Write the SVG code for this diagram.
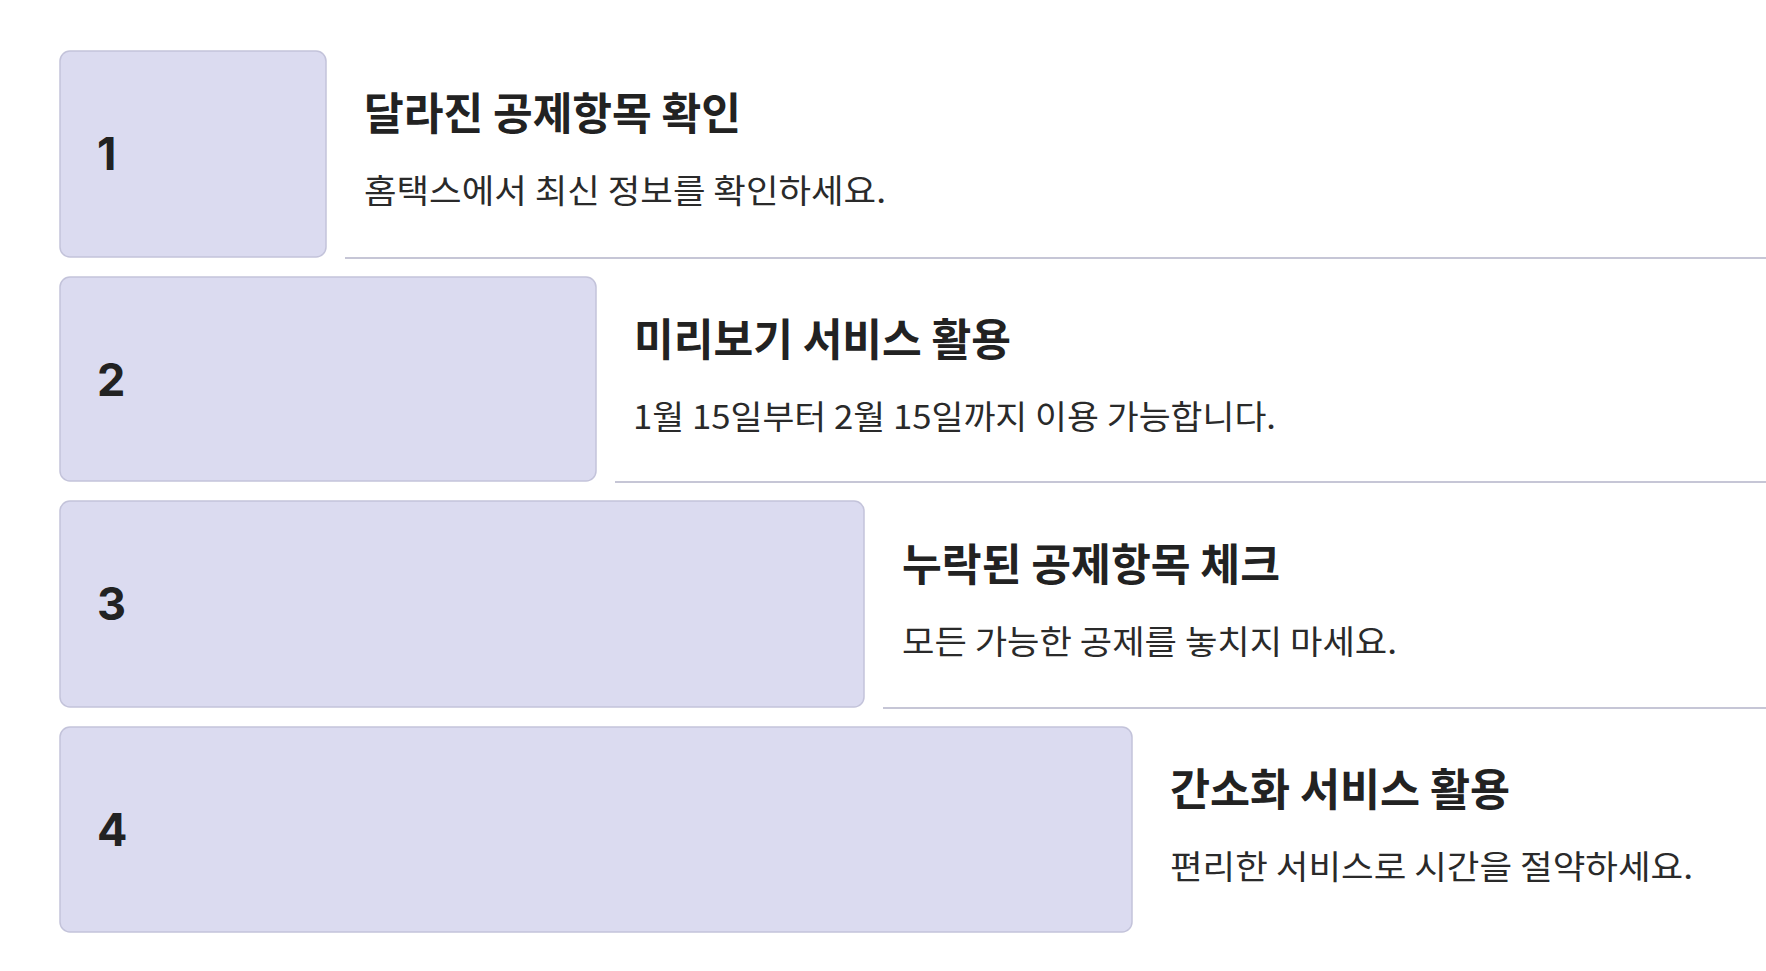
<svg xmlns="http://www.w3.org/2000/svg" width="1766" height="971" viewBox="0 0 1766 971">
<style>
.box{fill:#dbdbf0;stroke:#c3c3da;stroke-width:1.5}
.num{font-family:Inter,"Liberation Sans",sans-serif;font-weight:700;font-size:45px;fill:#222}
.title{font-family:"Noto Sans CJK KR","Noto Sans",sans-serif;font-weight:700;font-size:44px;fill:#222}
.sub{font-family:"Noto Sans CJK KR","Noto Sans",sans-serif;font-weight:400;font-size:33px;fill:#2a2a2a}
.sep{stroke:#c6c6d6;stroke-width:2;fill:none}
</style>
<rect width="1766" height="971" fill="#ffffff"/>
<g id="connectors">
<line class="sep" x1="345" y1="258" x2="1766" y2="258"/>
<line class="sep" x1="615" y1="482" x2="1766" y2="482"/>
<line class="sep" x1="883" y1="708" x2="1766" y2="708"/>
</g>
<g id="node1">
<rect class="box" x="60" y="51" width="266" height="206" rx="10"/>
<text class="num" x="97" y="170">1</text>
<text class="title" x="364" y="130" textLength="377" lengthAdjust="spacingAndGlyphs">달라진 공제항목 확인</text>
<text class="sub" x="364" y="203" textLength="522" lengthAdjust="spacingAndGlyphs">홈택스에서 최신 정보를 확인하세요.</text>
</g>
<g id="node2">
<rect class="box" x="60" y="277" width="536" height="204" rx="10"/>
<text class="num" x="97" y="396">2</text>
<text class="title" x="634" y="356" textLength="377" lengthAdjust="spacingAndGlyphs">미리보기 서비스 활용</text>
<text class="sub" x="633" y="429" textLength="643" lengthAdjust="spacingAndGlyphs">1월 15일부터 2월 15일까지 이용 가능합니다.</text>
</g>
<g id="node3">
<rect class="box" x="60" y="501" width="804" height="206" rx="10"/>
<text class="num" x="97" y="620">3</text>
<text class="title" x="902" y="581" textLength="378" lengthAdjust="spacingAndGlyphs">누락된 공제항목 체크</text>
<text class="sub" x="902" y="654" textLength="495" lengthAdjust="spacingAndGlyphs">모든 가능한 공제를 놓치지 마세요.</text>
</g>
<g id="node4">
<rect class="box" x="60" y="727" width="1072" height="205" rx="10"/>
<text class="num" x="97" y="846">4</text>
<text class="title" x="1170" y="806" textLength="340" lengthAdjust="spacingAndGlyphs">간소화 서비스 활용</text>
<text class="sub" x="1170" y="879" textLength="523" lengthAdjust="spacingAndGlyphs">편리한 서비스로 시간을 절약하세요.</text>
</g>
</svg>
